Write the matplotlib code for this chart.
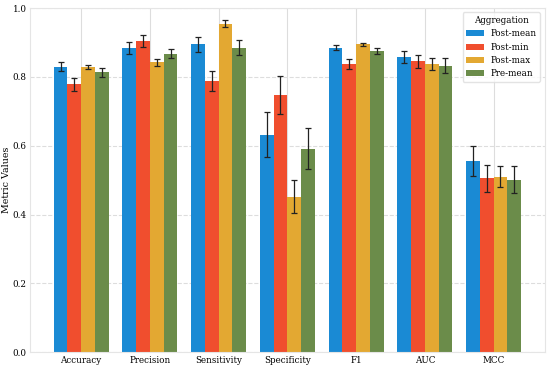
import numpy as np
import matplotlib
matplotlib.use('Agg')
import matplotlib.pyplot as plt

# 数据
metrics = ['Accuracy', 'Precision', 'Sensitivity', 'Specificity', 'F1', 'AUC', 'MCC']
aggregations = ['Post-mean', 'Post-min', 'Post-max', 'Pre-mean']

post_mean = [0.830, 0.883, 0.895, 0.632, 0.885, 0.858, 0.555]
post_min = [0.778, 0.905, 0.788, 0.748, 0.838, 0.845, 0.505]
post_max = [0.830, 0.842, 0.955, 0.452, 0.895, 0.838, 0.510]
pre_mean = [0.813, 0.868, 0.885, 0.592, 0.876, 0.833, 0.502]

post_mean_err = [0.012, 0.017, 0.022, 0.065, 0.008, 0.018, 0.043]
post_min_err = [0.018, 0.017, 0.028, 0.055, 0.014, 0.018, 0.038]
post_max_err = [0.006, 0.010, 0.010, 0.048, 0.004, 0.018, 0.030]
pre_mean_err = [0.014, 0.014, 0.022, 0.060, 0.009, 0.022, 0.040]

colors = ['#1a8ad4', '#f04e2e', '#e3a832', '#6b8c4a']

plt.rcParams['font.family'] = ['DejaVu Serif']

fig, ax = plt.subplots(figsize=(5.5, 3.67), dpi=100)

x = np.arange(len(metrics))
width = 0.2
values = [post_mean, post_min, post_max, pre_mean]
errors = [post_mean_err, post_min_err, post_max_err, pre_mean_err]

for i, (name, vals, errs) in enumerate(zip(aggregations, values, errors)):
    ax.bar(x + (i - 1.5) * width, vals, width, yerr=errs, label=name,
           color=colors[i], capsize=2.5,
           error_kw=dict(ecolor='#222222', elinewidth=0.9, capthick=0.9))

ax.set_xticks(x)
ax.set_xticklabels(metrics, fontsize=6.3)
ax.set_ylim(0, 1.0)
ax.set_yticks(np.arange(0, 1.01, 0.2))
ax.set_yticklabels([f'{v:.1f}' for v in np.arange(0, 1.01, 0.2)], fontsize=6.3)
ax.set_ylabel('Metric Values', fontsize=6.8, labelpad=1)
ax.tick_params(length=0, pad=2.5)

ax.set_axisbelow(True)
ax.xaxis.grid(True, color='#dddddd', linewidth=0.8)
ax.yaxis.grid(True, color='#dddddd', linewidth=0.8, linestyle='--')
for s in ax.spines.values():
    s.set_color('#e5e5e5')

leg = ax.legend(title='Aggregation', loc='upper right', fontsize=6.3,
                title_fontsize=6.3, frameon=True)
leg.get_frame().set_edgecolor('#dddddd')

plt.subplots_adjust(left=0.055, right=0.99, top=0.978, bottom=0.04)
plt.savefig('out.png', dpi=100)
